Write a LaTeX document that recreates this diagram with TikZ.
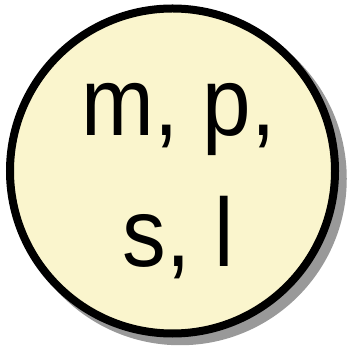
\documentclass[tikz,border=0pt]{standalone}
\usepackage{fontspec}
\newfontfamily\lblfont[FakeStretch=0.9]{Liberation Sans}
\usetikzlibrary{shadows}
\definecolor{paleyellow}{RGB}{250,245,205}
\definecolor{shadowgray}{RGB}{153,153,153}

\begin{document}
\begin{tikzpicture}[x=1pt,y=1pt,
  token/.style={circle,draw=black,line width=8pt,fill=paleyellow,
                minimum size=325pt,inner sep=0pt,
                drop shadow={shadow scale=1.025,shadow xshift=7.5pt,
                             shadow yshift=-7.5pt,fill=shadowgray,opacity=1}},
  tokenlabel/.style={align=center,inner sep=0pt,
                     font={\lblfont\fontsize{97pt}{131pt}\selectfont}}
]
  \useasboundingbox (0,0) rectangle (350,350);
  \node[token] (ring) at (172.5,179) {};
  \node[tokenlabel,xshift=6pt,yshift=-10pt] (lbl) at (ring.center)
    {m, p,\\s, l};
\end{tikzpicture}
\end{document}
